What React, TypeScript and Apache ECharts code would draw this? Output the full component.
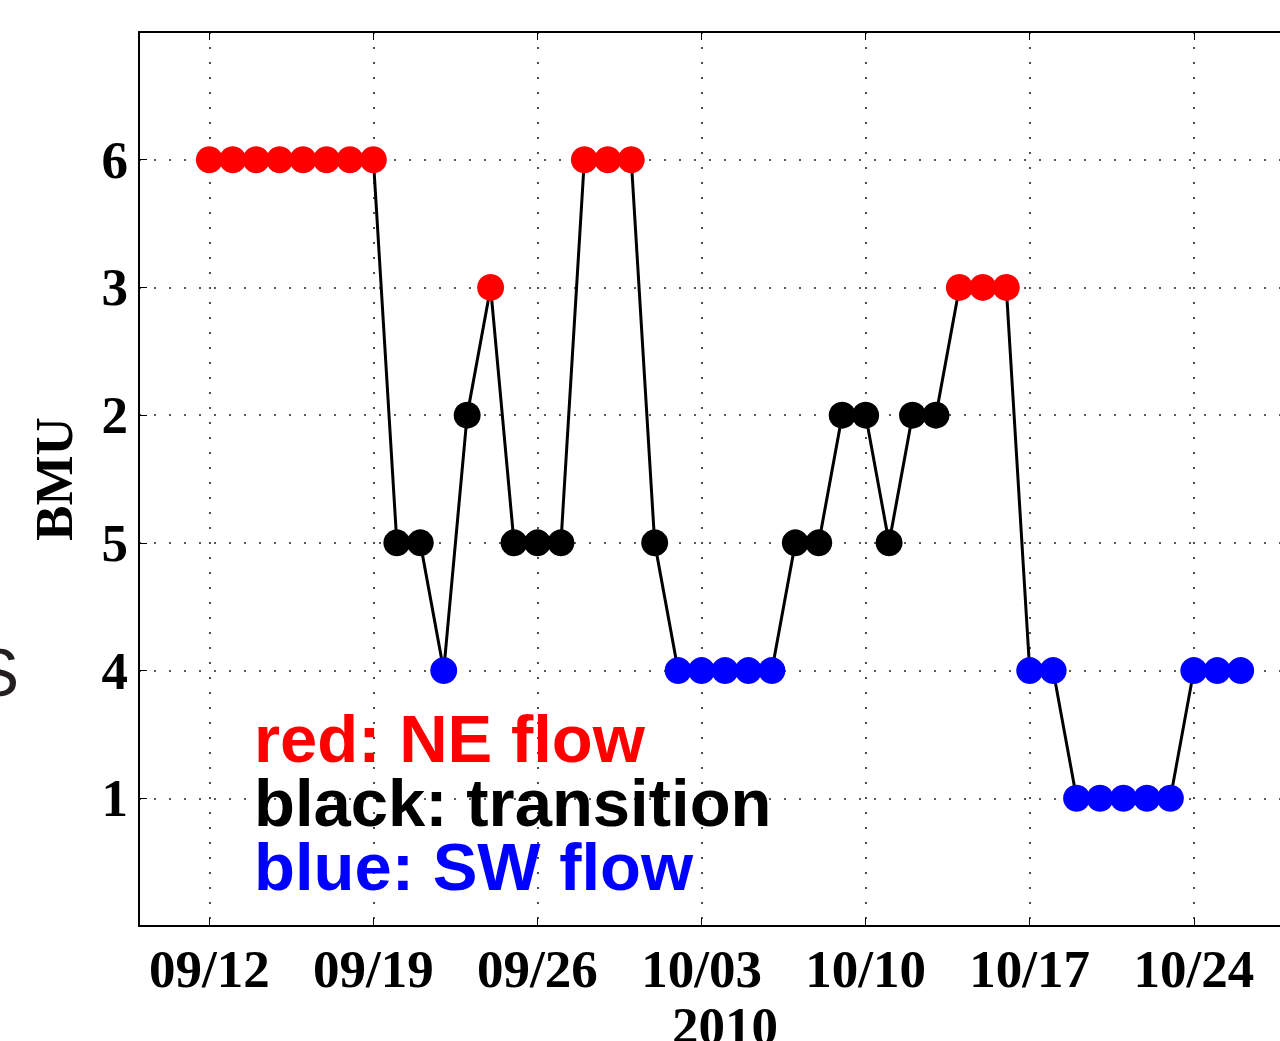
import React, { useEffect, useRef } from 'react';
import * as echarts from 'echarts';

// ---- data ----
const year = 2010;
const dates = [
  '09/12', '09/13', '09/14', '09/15', '09/16', '09/17', '09/18', '09/19',
  '09/20', '09/21', '09/22', '09/23', '09/24', '09/25', '09/26', '09/27',
  '09/28', '09/29', '09/30', '10/01', '10/02', '10/03', '10/04', '10/05',
  '10/06', '10/07', '10/08', '10/09', '10/10', '10/11', '10/12', '10/13',
  '10/14', '10/15', '10/16', '10/17', '10/18', '10/19', '10/20', '10/21',
  '10/22', '10/23', '10/24', '10/25', '10/26',
];
const bmu = [
  6, 6, 6, 6, 6, 6, 6, 6,
  5, 5, 4, 2, 3, 5, 5, 5,
  6, 6, 6, 5, 4, 4, 4, 4,
  4, 5, 5, 2, 2, 5, 2, 2,
  3, 3, 3, 4, 4, 1, 1, 1,
  1, 1, 4, 4, 4,
];
// BMU tick labels, bottom to top
const yLevels = ['1', '4', '5', '2', '3', '6'];
const xTickLabels = ['09/12', '09/19', '09/26', '10/03', '10/10', '10/17', '10/24'];
const xStart = '09/09';
const xEnd = '10/29';
const xLabelName = '2010';
const yLabelName = 'BMU';

const neBmus = [6, 3];
const transitionBmus = [5, 2];
const swBmus = [4, 1];
const legendLines = ['red: NE flow', 'black: transition', 'blue: SW flow'];

const RED = '#ff0000';
const BLACK = '#000000';
const BLUE = '#0000ff';

const ref0 = Date.UTC(year, 8, 12);
const dayOf = (s: string) => {
  const [m, d] = s.split('/').map(Number);
  return Math.round((Date.UTC(year, m - 1, d) - ref0) / 86400000);
};
const colorOf = (b: number) =>
  neBmus.includes(b) ? RED : transitionBmus.includes(b) ? BLACK : swBmus.includes(b) ? BLUE : BLACK;

const App = () => {
  const el = useRef<HTMLDivElement>(null);
  useEffect(() => {
    if (!el.current) return;
    const chart = echarts.init(el.current, null, { renderer: 'svg' });
    const points = dates.map((d, i) => [dayOf(d), yLevels.indexOf(String(bmu[i])) + 1]);
    const pointColors = bmu.map(colorOf);
    const xTicks = xTickLabels.map(dayOf);
    const yTicks = yLevels.map((_, i) => i + 1);
    const serif = 'Liberation Serif';
    const sans = 'Liberation Sans';
    const tickFont = { fontFamily: serif, fontWeight: 'bold' as const, fontSize: 53, color: '#000' };
    const dotted = { type: [2, 13] as any, color: '#222', width: 1.6 };
    const axisLine = { show: true, onZero: false, lineStyle: { color: '#000', width: 2 } };
    const xTick = { show: true, inside: true, length: 8, customValues: xTicks, lineStyle: { color: '#000', width: 1 } };

    chart.setOption({
      animation: false,
      backgroundColor: '#fff',
      grid: { left: 139, right: -31, top: 32, bottom: 115, containLabel: false, outerBoundsMode: 'none' },
      xAxis: [
        {
          type: 'value',
          position: 'bottom',
          min: dayOf(xStart),
          max: dayOf(xEnd),
          axisLine,
          axisTick: xTick,
          axisLabel: {
            ...tickFont,
            customValues: xTicks,
            margin: 16,
            formatter: (v: number) => xTickLabels[xTicks.indexOf(v)] ?? '',
          },
          splitLine: { show: true, lineStyle: dotted },
          name: xLabelName,
          nameLocation: 'middle',
          nameGap: 68,
          nameTextStyle: tickFont,
        },
        {
          type: 'value',
          position: 'top',
          min: dayOf(xStart),
          max: dayOf(xEnd),
          axisLine,
          axisTick: xTick,
          axisLabel: { show: false },
          splitLine: { show: false },
        },
      ],
      yAxis: {
        type: 'value',
        position: 'left',
        min: 0,
        max: yLevels.length + 1,
        axisLine,
        axisTick: { show: true, inside: true, length: 8, customValues: yTicks, lineStyle: { color: '#000', width: 1 } },
        axisLabel: {
          ...tickFont,
          customValues: yTicks,
          margin: 11,
          formatter: (v: number) => yLevels[v - 1] ?? '',
        },
        splitLine: { show: true, lineStyle: dotted },
        name: yLabelName,
        nameLocation: 'middle',
        nameRotate: 90,
        nameGap: 59,
        nameTextStyle: tickFont,
      },
      series: [
        {
          type: 'line',
          data: points,
          symbol: 'circle',
          symbolSize: 27,
          showAllSymbol: true,
          lineStyle: { color: '#000', width: 3 },
          itemStyle: { color: (p: any) => pointColors[p.dataIndex] },
          emphasis: { disabled: true },
          silent: true,
        },
      ],
      graphic: [
        {
          type: 'text',
          x: 254,
          y: 706,
          z: 100,
          style: {
            text: legendLines
              .map((t, i) => `{${['r', 'k', 'b'][i]}|${t}}`)
              .join('\n'),
            font: `bold 67px ${sans}`,
            verticalAlign: 'top',
            align: 'left',
            rich: {
              r: { fill: RED, font: `bold 67px ${sans}`, lineHeight: 64 },
              k: { fill: BLACK, font: `bold 67px ${sans}`, lineHeight: 64 },
              b: { fill: BLUE, font: `bold 67px ${sans}`, lineHeight: 64 },
            },
          },
        },
        {
          type: 'text',
          x: 19,
          y: 672,
          style: {
            text: 'S',
            fill: '#231f20',
            font: `68px ${sans}`,
            verticalAlign: 'middle',
            align: 'right',
          },
        },
      ],
    });
    return () => chart.dispose();
  }, []);
  return <div ref={el} style={{ position: 'absolute', left: 0, top: 0, width: 1280, height: 1041 }} />;
};

export default App;
